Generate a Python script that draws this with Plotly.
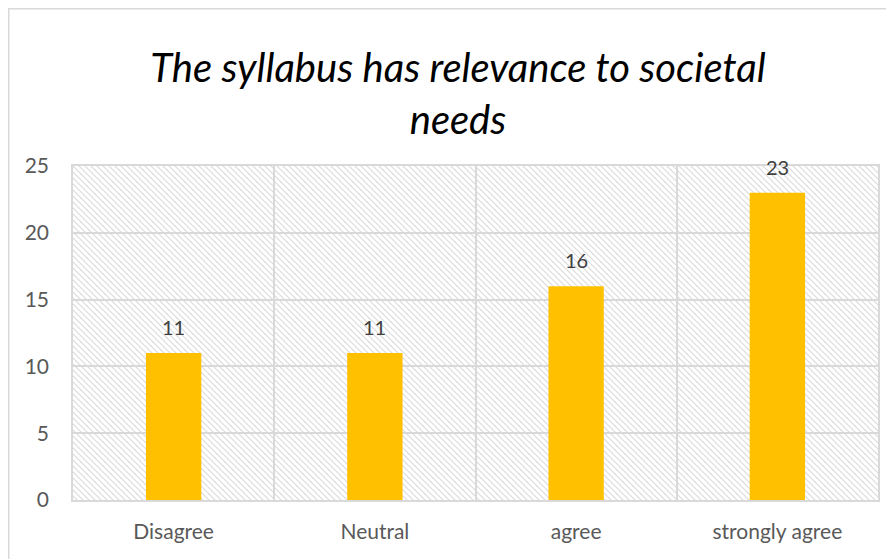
import base64
import plotly.graph_objects as go

categories = ["Disagree", "Neutral", "agree", "strongly agree"]
values = [11, 11, 16, 23]
y_ticks = [0, 5, 10, 15, 20, 25]

W, H = 886, 551
L, R, T, B = 65, 16, 158, 59
pw, ph = W - L - R, H - T - B

FONT = "Lato, Open Sans, sans-serif"


def svg_uri(svg):
    return "data:image/svg+xml;base64," + base64.b64encode(svg.encode()).decode()


# diagonal hatch background for the plot area
hatch = (
    f'<svg xmlns="http://www.w3.org/2000/svg" width="{pw}" height="{ph}">'
    '<defs><pattern id="h" width="6" height="6" patternUnits="userSpaceOnUse">'
    '<rect width="6" height="6" fill="white"/>'
    '<path d="M-1,-1 L7,7 M-1,5 L1,7 M5,-1 L7,1" stroke="#dadada" stroke-width="1.1"/>'
    '</pattern></defs>'
    f'<rect width="{pw}" height="{ph}" fill="url(#h)"/></svg>'
)

# chart-area border (left and top edges only)
BW = W - L - 2  # border image spans up to just past the plot area
border = (
    f'<svg xmlns="http://www.w3.org/2000/svg" width="{BW + L}" height="{H}">'
    f'<path d="M0.75,{H} L0.75,0.75 L{BW + L},0.75" fill="none" stroke="#d9d9d9" stroke-width="1.5"/>'
    '</svg>'
)

fig = go.Figure()
fig.add_trace(go.Bar(
    x=categories, y=values, width=0.275,
    marker=dict(color="#FFC000", line=dict(width=0)),
    hoverinfo="x+y",
))

for c, v in zip(categories, values):
    fig.add_annotation(x=c, y=v, text=str(v), showarrow=False, yshift=26,
                       font=dict(family=FONT, size=20, color="#404040"))

fig.add_layout_image(dict(source=svg_uri(hatch), xref="paper", yref="paper", x=0, y=1,
                          sizex=1, sizey=1, sizing="stretch", layer="below",
                          xanchor="left", yanchor="top"))
fig.add_layout_image(dict(source=svg_uri(border), xref="paper", yref="paper",
                          x=-L / pw, y=(H - B) / ph, sizex=(BW + L) / pw, sizey=H / ph,
                          sizing="stretch", layer="above",
                          xanchor="left", yanchor="top"))

fig.update_layout(
    width=W, height=H,
    margin=dict(l=L, r=R, t=T, b=B),
    paper_bgcolor="white", plot_bgcolor="white",
    showlegend=False,
    title=dict(text="<i>The syllabus has relevance to societal<br>needs</i>",
               x=450 / W, xref="container", xanchor="center",
               y=1 - 74 / H, yref="container", yanchor="middle",
               font=dict(family=FONT, size=40, color="black")),
    xaxis=dict(type="category", tickson="boundaries", showgrid=True,
               gridcolor="#d9d9d9", gridwidth=1.5, showline=True, linecolor="#d9d9d9",
               linewidth=1.5, mirror=True, ticks="", ticklabelstandoff=12,
               tickfont=dict(family=FONT, size=21, color="#595959"),
               range=[-0.5, 3.5]),
    yaxis=dict(range=[0, 25], tickvals=y_ticks, showgrid=True, gridcolor="#d9d9d9",
               gridwidth=1.5, showline=True, linecolor="#d9d9d9", linewidth=1.5,
               mirror=True, ticks="", zeroline=False, ticklabelstandoff=18,
               tickfont=dict(family=FONT, size=21, color="#595959")),
)

fig.write_html("out.html")
